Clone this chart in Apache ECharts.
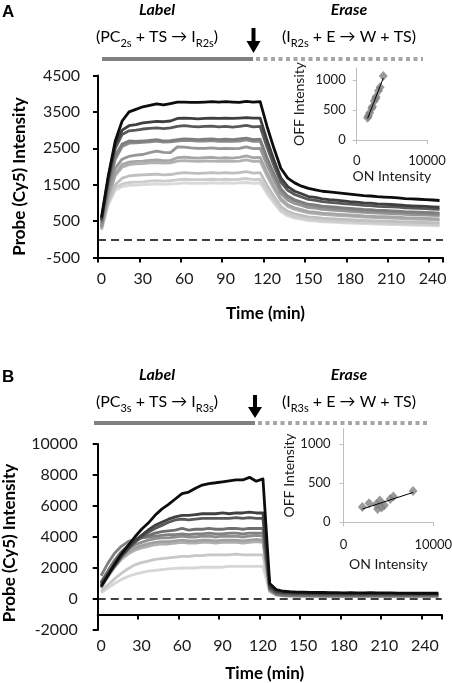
<!DOCTYPE html>
<html><head><meta charset="utf-8">
<script src="https://cdn.jsdelivr.net/npm/echarts@6/dist/echarts.min.js"></script>
<style>html,body{margin:0;padding:0;background:#fff}#c{width:452px;height:683px}</style>
</head><body><div id="c"></div>
<script>
// ---------- DATA ----------
const timeA = [0,5,10,15,20,25,30,35,40,45,50,55,60,65,70,75,80,85,90,95,100,105,110,115,120,125,130,135,140,145,150,155,160,165,170,175,180,185,190,195,200,205,210,215,220,225,230,235,240,245];
const timeB = [0,5,10,15,20,25,30,35,40,45,50,55,60,65,70,75,80,85,90,95,100,105,110,115,120,125,130,135,140,145,150,155,160,165,170,175,180,185,190,195,200,205,210,215,220,225,230,235,240,245,250];
const yTicksA = [-500,500,1500,2500,3500,4500];
const insetTicks = [0,500,1000];

// Panel A traces (darkest first)
const A1 = [600,1750,2700,3250,3500,3570,3640,3680,3720,3690,3730,3770,3770,3760,3760,3770,3780,3770,3780,3770,3760,3790,3770,3780,3100,2500,1950,1680,1550,1460,1400,1360,1320,1300,1280,1260,1240,1220,1200,1190,1170,1160,1150,1140,1120,1110,1100,1090,1080,1066];
const A2 = [550,1700,2600,3000,3120,3150,3200,3220,3240,3230,3250,3320,3330,3320,3310,3320,3330,3320,3330,3320,3330,3340,3330,3330,2720,2180,1690,1445,1320,1250,1175,1150,1110,1090,1075,1055,1035,1020,1000,993,973,966,956,946,929,919,909,902,892,880];
const A3 = [500,1600,2500,2880,2980,3000,3030,3050,3060,3040,3060,3100,3120,3100,3090,3100,3110,3090,3100,3080,3100,3130,3090,3100,2530,2030,1570,1344,1230,1162,1094,1071,1034,1016,1000,982,966,950,932,925,907,900,891,882,866,856,847,840,831,820];
const A4 = [450,1500,2300,2620,2700,2690,2700,2720,2740,2700,2710,2740,2760,2750,2740,2750,2760,2740,2750,2740,2760,2780,2740,2750,2240,1800,1390,1187,1085,1025,964,943,911,895,880,864,850,836,820,813,797,791,783,775,761,752,744,738,730,720];
const A5 = [350,1400,2200,2550,2640,2650,2660,2680,2700,2670,2680,2700,2720,2710,2700,2700,2710,2690,2700,2690,2700,2730,2690,2700,2200,1755,1353,1152,1052,992,931,911,879,863,849,833,819,805,788,782,766,760,752,744,730,722,714,708,700,690];
const A6 = [400,1300,1950,2200,2280,2310,2330,2380,2420,2390,2380,2540,2530,2510,2500,2500,2510,2490,2500,2490,2500,2540,2490,2500,2040,1630,1260,1076,983,928,872,854,824,809,796,781,768,755,741,735,720,715,707,700,687,680,672,667,659,650];
const A7 = [300,1200,1800,2050,2120,2140,2150,2170,2180,2160,2170,2240,2260,2240,2230,2240,2250,2230,2240,2230,2250,2290,2240,2250,1830,1456,1118,949,864,814,763,746,719,705,693,680,668,656,643,638,624,619,612,606,594,587,580,575,568,560];
const A8 = [320,1150,1750,1980,2050,2070,2080,2100,2110,2090,2100,2150,2160,2150,2140,2150,2150,2140,2150,2140,2150,2180,2140,2150,1745,1389,1065,903,822,773,724,708,682,669,658,645,634,622,609,605,592,587,580,574,562,556,549,545,538,530];
const A9 = [280,1050,1500,1680,1740,1760,1770,1780,1790,1770,1780,1810,1830,1820,1810,1820,1830,1820,1830,1820,1830,1860,1820,1830,1485,1181,905,767,698,657,616,602,580,569,559,548,538,529,518,513,502,498,493,487,478,472,467,462,457,450];
const A10 = [260,1000,1420,1520,1560,1570,1580,1600,1610,1600,1610,1630,1650,1640,1640,1640,1650,1640,1650,1640,1650,1670,1640,1650,1338,1063,813,688,625,588,550,538,518,508,499,489,480,471,461,458,448,444,439,434,425,420,415,411,406,400];
const A11 = [250,950,1350,1450,1480,1490,1500,1510,1520,1510,1520,1530,1550,1540,1540,1540,1550,1540,1550,1540,1550,1560,1540,1550,1255,995,759,641,582,547,512,500,481,471,463,454,446,437,428,424,415,411,407,402,394,389,384,381,376,370];

// Panel B traces (darkest first)
const B1 = [790,1500,2250,2900,3450,4000,4500,4900,5400,5800,6100,6450,6800,6900,7150,7350,7450,7500,7560,7620,7680,7680,7850,7600,7750,1000,600,500,470,450,450,430,420,420,410,410,400,410,400,400,410,400,390,390,380,380,380,370,370,370,370];
const B2 = [1000,1600,2200,2800,3300,3750,4100,4450,4750,4950,5150,5300,5400,5400,5450,5500,5500,5500,5550,5500,5550,5550,5600,5550,5550,800,480,420,390,370,360,350,350,340,340,340,340,330,340,330,330,330,330,330,330,330,330,330,330,330,330];
const B3 = [900,1500,2100,2700,3200,3650,4000,4300,4550,4750,4950,5100,5150,5100,5150,5200,5200,5200,5200,5200,5250,5200,5250,5200,5200,750,440,380,350,340,330,320,320,310,310,310,310,300,310,300,300,300,300,300,300,300,300,300,300,300,300];
const B4 = [1100,1800,2500,3050,3450,3750,3950,4100,4250,4350,4400,4450,4550,4450,4500,4500,4550,4500,4500,4550,4550,4500,4550,4550,4550,650,330,280,260,250,240,240,230,230,230,230,220,230,220,220,220,220,220,220,220,220,220,220,220,220,220];
const B5 = [1500,2300,2950,3400,3700,3850,3950,4000,4050,4100,4150,4150,4200,4150,4200,4200,4250,4200,4200,4250,4250,4200,4250,4250,4250,600,300,240,220,210,200,200,200,190,190,190,190,190,190,190,190,190,190,190,190,190,190,190,190,190,190];
const B6 = [1000,1700,2400,2900,3250,3500,3650,3800,3900,3950,3950,4000,4050,4000,4000,4050,4050,4000,4050,4050,4050,4000,4050,4100,4050,650,380,330,310,300,290,290,290,280,280,280,280,280,280,280,280,280,280,280,280,280,280,280,280,280,280];
const B7 = [800,1500,2200,2700,3050,3300,3450,3550,3650,3700,3700,3750,3800,3750,3750,3800,3800,3750,3800,3800,3800,3750,3800,3850,3800,550,260,210,190,180,180,180,170,170,170,170,170,170,170,170,170,170,170,170,170,170,170,170,170,170,170];
const B8 = [700,1400,2050,2550,2900,3150,3300,3400,3500,3550,3550,3600,3650,3600,3600,3650,3650,3600,3650,3650,3650,3600,3650,3700,3650,550,320,270,250,240,240,230,230,230,230,230,230,230,230,230,230,230,230,230,230,230,230,230,230,230,230];
const B9 = [500,900,1300,1650,1950,2200,2350,2450,2550,2600,2650,2700,2750,2750,2800,2800,2850,2850,2850,2850,2900,2850,2850,2850,2850,500,310,280,265,255,250,250,245,245,245,245,245,245,245,245,245,245,245,245,245,245,245,245,245,245,245];
const B10 = [400,700,1000,1250,1450,1600,1700,1800,1850,1900,1950,1980,2000,2000,2000,2050,2050,2050,2050,2100,2100,2100,2100,2100,2100,450,250,220,210,200,200,195,195,195,195,195,195,195,195,195,195,195,195,195,195,195,195,195,195,195,195];

// Insets: ON vs OFF intensity
const onA  = [3780,3330,3100,2750,2700,2500,2250,2150,1830,1650,1550];
const offA = [1066,880,820,720,690,650,560,530,450,400,370];
const onB  = [7750,5550,5200,4550,4250,4050,3800,3650,2850,2100];
const offB = [400,330,300,220,190,280,170,230,245,195];

// ---------- CHART ----------
const FONT = 'Lato, "DejaVu Sans", sans-serif';
const seriesA = [A1,A2,A3,A4,A5,A6,A7,A8,A9,A10,A11];
const seriesB = [B1,B2,B3,B4,B5,B6,B7,B8,B9,B10];
const palA = ['#0d0d0d','#3f3f3f','#595959','#7f7f7f','#8c8c8c','#969696','#a6a6a6','#b2b2b2','#bfbfbf','#cccccc','#d9d9d9'];
const palB = ['#0d0d0d','#404040','#595959','#6f6f6f','#808080','#8f8f8f','#a0a0a0','#b0b0b0','#c8c8c8','#d6d6d6'];
const plain = v => String(v);

function trend(xs, ys) {
  const n = xs.length;
  const mx = xs.reduce((a,b)=>a+b,0)/n, my = ys.reduce((a,b)=>a+b,0)/n;
  let sxy = 0, sxx = 0;
  for (let i=0;i<n;i++){ sxy += (xs[i]-mx)*(ys[i]-my); sxx += (xs[i]-mx)*(xs[i]-mx); }
  const b = sxy/sxx, a = my - b*mx;
  const x0 = Math.min(...xs), x1 = Math.max(...xs);
  return [[x0, a+b*x0],[x1, a+b*x1]];
}

const black = '#000';
const mainAxisLine = {lineStyle:{color:black,width:2}};
const mainTick = {show:true,length:5,lineStyle:{color:black,width:2}};
const insetLine = {lineStyle:{color:'#bfbfbf',width:1}};
const insetTick = {show:true,length:4,lineStyle:{color:'#bfbfbf',width:1}};
const txtColor = '#1a1a1a';

function mainSeries(arr, pal, xi, yi) {
  const out = [];
  for (let i = arr.length-1; i >= 0; i--) {
    const s = {type:'line', xAxisIndex:xi, yAxisIndex:yi, data:arr[i], symbol:'none', silent:true,
      lineStyle:{color:pal[i], width:2.8, join:'round'}, itemStyle:{color:pal[i]}, z: 3 + (arr.length-i)*0.01};
    if (i === 0) {
      s.markLine = {silent:true, symbol:'none', label:{show:false}, animation:false,
        lineStyle:{type:[8,5], color:black, width:1.5}, data:[{yAxis:0}]};
    }
    out.push(s);
  }
  return out;
}

function insetSeries(xs, ys, xi, yi) {
  return [
    {type:'scatter', xAxisIndex:xi, yAxisIndex:yi, data: xs.map((x,i)=>[x, ys[i]]), symbol:'diamond', symbolSize:[9,10], itemStyle:{color:'#7f7f7f'}, silent:true, z:4},
    {type:'line', xAxisIndex:xi, yAxisIndex:yi, data: trend(xs, ys), symbol:'none', lineStyle:{color:black,width:1}, silent:true, z:5}
  ];
}

const rich = {
  n:{fontSize:16, fontFamily:FONT, fill:black, lineHeight:24, verticalAlign:'middle'},
  s:{fontSize:11, fontFamily:FONT, fill:black, lineHeight:12, verticalAlign:'bottom'}
};
function T(x, y, text, font, extra) {
  return {type:'text', x, y, silent:true, z:10,
    style: Object.assign({text, font, fill:black, align:'center', verticalAlign:'middle'}, extra||{})};
}
function R(x, y, text) {
  return {type:'text', x, y, silent:true, z:10,
    style:{text, rich, align:'center', verticalAlign:'middle', font:'16px '+FONT, fill:black}};
}
function arrow(x, yTop, yHeadTop, yBottom) {
  return [
    {type:'rect', silent:true, z:10, shape:{x:x-2, y:yTop, width:4, height:yHeadTop-yTop+1}, style:{fill:black}},
    {type:'polygon', silent:true, z:10, shape:{points:[[x-7,yHeadTop],[x+7,yHeadTop],[x,yBottom]]}, style:{fill:black}}
  ];
}
function bars(x0, xm, x1, y) {
  return [
    {type:'line', silent:true, z:10, shape:{x1:x0,y1:y,x2:xm,y2:y}, style:{stroke:'#808080', lineWidth:4}},
    {type:'line', silent:true, z:10, shape:{x1:xm+3,y1:y,x2:x1,y2:y}, style:{stroke:'#a6a6a6', lineWidth:4, lineDash:[4,3.5]}}
  ];
}

const option = {
  animation:false,
  backgroundColor:'#fff',
  grid:[
    {left:98, top:75.5, width:345, height:182, containLabel:false, outerBoundsMode:'none'},
    {left:356.7, top:68, width:70.3, height:72, containLabel:false, outerBoundsMode:'none'},
    {left:97.7, top:444, width:344, height:186, containLabel:false, outerBoundsMode:'none'},
    {left:343.5, top:428.7, width:89.8, height:93.6, containLabel:false, outerBoundsMode:'none'}
  ],
  xAxis:[
    {gridIndex:0, type:'category', data:timeA, boundaryGap:true,
      axisLine:Object.assign({onZero:false}, mainAxisLine),
      axisTick:Object.assign({interval:5}, mainTick),
      axisLabel:{interval:5, fontSize:16, fontFamily:FONT, color:txtColor, margin:13},
      splitLine:{show:false},
      name:'Time (min)', nameLocation:'middle', nameGap:48,
      nameTextStyle:{fontSize:17, fontWeight:'bold', fontFamily:FONT, color:black, padding:[0,10,0,0]}},
    {gridIndex:1, type:'value', min:0, max:10000, interval:10000,
      axisLine:Object.assign({onZero:false}, insetLine), axisTick:insetTick,
      axisLabel:{fontSize:13, fontFamily:FONT, color:txtColor, margin:14, formatter:plain},
      splitLine:{show:false},
      name:'ON Intensity', nameLocation:'middle', nameGap:29,
      nameTextStyle:{fontSize:14, fontFamily:FONT, color:txtColor}},
    {gridIndex:2, type:'category', data:timeB, boundaryGap:true, offset:-15.5,
      axisLine:Object.assign({onZero:false}, mainAxisLine),
      axisTick:Object.assign({interval:5}, mainTick),
      axisLabel:{interval:5, fontSize:16, fontFamily:FONT, color:txtColor, margin:23},
      splitLine:{show:false},
      name:'Time (min)', nameLocation:'middle', nameGap:51,
      nameTextStyle:{fontSize:17, fontWeight:'bold', fontFamily:FONT, color:black, padding:[0,10,0,0]}},
    {gridIndex:3, type:'value', min:0, max:10000, interval:10000,
      axisLine:Object.assign({onZero:false}, insetLine), axisTick:insetTick,
      axisLabel:{fontSize:13, fontFamily:FONT, color:txtColor, margin:16, formatter:plain},
      splitLine:{show:false},
      name:'ON Intensity', nameLocation:'middle', nameGap:35,
      nameTextStyle:{fontSize:14, fontFamily:FONT, color:txtColor}}
  ],
  yAxis:[
    {gridIndex:0, type:'value', min:-500, max:4500, interval:1000,
      axisLine:Object.assign({show:true,onZero:false}, mainAxisLine),
      axisTick:Object.assign({customValues:yTicksA}, mainTick),
      axisLabel:{customValues:yTicksA, fontSize:16, fontFamily:FONT, color:txtColor, margin:18, formatter:plain},
      splitLine:{show:false},
      name:'Probe (Cy5) Intensity', nameLocation:'middle', nameGap:70, nameRotate:90,
      nameTextStyle:{fontSize:17, fontWeight:'bold', fontFamily:FONT, color:black, padding:[0,20,0,0]}},
    {gridIndex:1, type:'value', min:0, max:1200,
      axisLine:Object.assign({show:true,onZero:false}, insetLine),
      axisTick:Object.assign({customValues:insetTicks}, insetTick),
      axisLabel:{customValues:insetTicks, fontSize:13, fontFamily:FONT, color:txtColor, margin:11, formatter:plain},
      splitLine:{show:false},
      name:'OFF Intensity', nameLocation:'middle', nameGap:50, nameRotate:90,
      nameTextStyle:{fontSize:14, fontFamily:FONT, color:txtColor}},
    {gridIndex:2, type:'value', min:-2000, max:10000, interval:2000,
      axisLine:Object.assign({show:true,onZero:false}, mainAxisLine), axisTick:mainTick,
      axisLabel:{fontSize:16, fontFamily:FONT, color:txtColor, margin:20, formatter:plain},
      splitLine:{show:false},
      name:'Probe (Cy5) Intensity', nameLocation:'middle', nameGap:80, nameRotate:90,
      nameTextStyle:{fontSize:17, fontWeight:'bold', fontFamily:FONT, color:black, padding:[0,12,0,0]}},
    {gridIndex:3, type:'value', min:0, max:1200,
      axisLine:Object.assign({show:true,onZero:false}, insetLine),
      axisTick:Object.assign({customValues:insetTicks}, insetTick),
      axisLabel:{customValues:insetTicks, fontSize:13, fontFamily:FONT, color:txtColor, margin:13, formatter:plain},
      splitLine:{show:false},
      name:'OFF Intensity', nameLocation:'middle', nameGap:39, nameRotate:90,
      nameTextStyle:{fontSize:14, fontFamily:FONT, color:txtColor}}
  ],
  series:[].concat(
    mainSeries(seriesA, palA, 0, 0),
    insetSeries(onA, offA, 1, 1),
    mainSeries(seriesB, palB, 2, 2),
    insetSeries(onB, offB, 3, 3)
  ),
  graphic:[].concat(
    [T(2, 12.5, 'A', 'bold 17px "Liberation Sans", Arial, sans-serif', {align:'left'}),
     T(157, 9.5, 'Label', 'italic bold 16px '+FONT),
     T(349, 9.5, 'Erase', 'italic bold 16px '+FONT),
     R(157, 37, '{n|(PC}{s|2s}{n| + TS → I}{s|R2s}{n|)}'),
     R(349, 37, '{n|(I}{s|R2s}{n| + E → W + TS)}')],
    arrow(253.5, 28, 41, 53),
    bars(102, 253, 423, 59),
    [T(2, 377, 'B', 'bold 17px "Liberation Sans", Arial, sans-serif', {align:'left'}),
     T(157, 375, 'Label', 'italic bold 16px '+FONT),
     T(349, 375, 'Erase', 'italic bold 16px '+FONT),
     R(157, 402, '{n|(PC}{s|3s}{n| + TS → I}{s|R3s}{n|)}'),
     R(349, 402, '{n|(I}{s|R3s}{n| + E → W + TS)}')],
    arrow(255, 395, 407, 418),
    bars(94, 255, 428, 423)
  )
};

const chart = echarts.init(document.getElementById('c'), null, {renderer:'canvas', width:452, height:683});
chart.setOption(option);
</script>
</body></html>
